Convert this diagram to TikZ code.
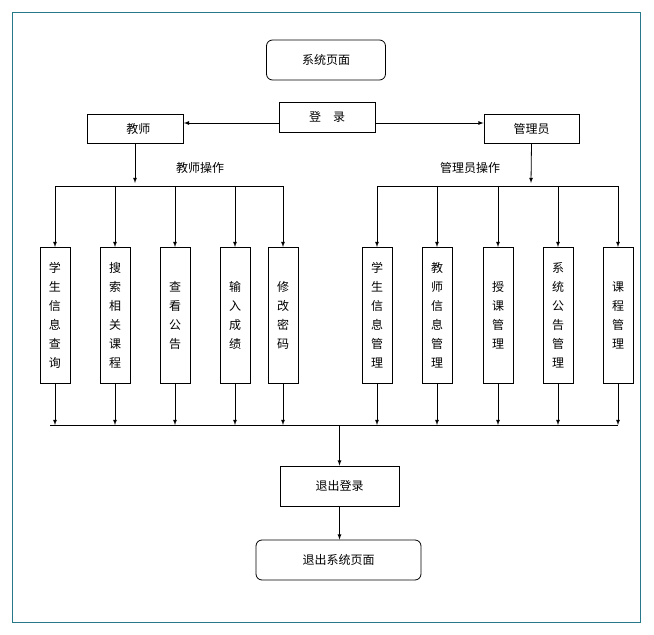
\documentclass[tikz,border=0pt]{standalone}
\usepackage{fontspec}
\setmainfont{Noto Sans CJK SC}
\begin{document}
\begin{tikzpicture}[x=1pt,y=-1pt,
 box/.style={draw,thick,fill=white,inner sep=0pt,font=\fontsize{12}{14}\selectfont},
 vbox/.style={draw,thick,fill=white,minimum width=30pt,minimum height=136pt,inner sep=0pt,anchor=north,font=\fontsize{12}{19}\selectfont,align=center,text width=14pt},
 arr/.style={-latex,thick},
 ln/.style={thick}]
\useasboundingbox (0,0) rectangle (654,635);
\draw[draw={rgb,255:red,40;green,120;blue,140}] (12,12) rectangle (640,622);
\node[box,rounded corners=6pt,minimum width=119pt,minimum height=40pt] (sys) at (326,60) {系统页面};
\node[box,minimum width=96pt,minimum height=30pt] (login) at (327,117) {登\quad 录};
\node[box,minimum width=96pt,minimum height=29pt,anchor=west] (tea) at (87,128.5) {\hspace{6pt}教师};
\node[box,minimum width=95pt,minimum height=29pt] (adm) at (531.5,128.5) {管理员};
\coordinate (ly) at (327,123);
\draw[arr] (login.west|-ly) -- (tea.east|-ly);
\draw[arr] (login.east|-ly) -- (adm.west|-ly);
\coordinate (tj) at (135,183);
\coordinate (aj) at (531,183);
\draw[arr] (tea.south-|tj) -- (tj);
\draw[arr] (adm.south) -- (aj);
\node[font=\fontsize{12}{14}\selectfont] (tl) at (200,168) {教师操作};
\node[font=\fontsize{12}{14}\selectfont] (al) at (470,168) {管理员操作};
\coordinate (tl1) at (55,186);\coordinate (tl2) at (283,186);
\draw[ln] (tl1) -- (tl2);
\coordinate (al1) at (377,186);\coordinate (al2) at (618,186);
\draw[ln] (al1) -- (al2);
\coordinate (b1) at (50,425);\coordinate (b2) at (618,425);
\draw[ln] (b1) -- (b2);
\foreach \x/\t/\n in {55/学\\生\\信\\息\\查\\询/t1,115/搜\\索\\相\\关\\课\\程/t2,175/查\\看\\公\\告/t3,235/输\\入\\成\\绩/t4,283/修\\改\\密\\码/t5}{
 \node[vbox] (\n) at (\x,247) {\t};
 \draw[arr] (\x,186) -- (\n.north);
 \draw[arr] (\n.south) -- (\x,425);
}
\foreach \x/\t/\n in {377/学\\生\\信\\息\\管\\理/a1,437/教\\师\\信\\息\\管\\理/a2,498/授\\课\\管\\理/a3,558/系\\统\\公\\告\\管\\理/a4,618/课\\程\\管\\理/a5}{
 \node[vbox] (\n) at (\x,247) {\t};
 \draw[arr] (\x,186) -- (\n.north);
 \draw[arr] (\n.south) -- (\x,425);
}
\node[box,minimum width=119pt,minimum height=40pt] (out) at (339.5,486) {退出登录};
\node[box,rounded corners=6pt,minimum width=165pt,minimum height=40pt] (outs) at (338.5,560) {退出系统页面};
\draw[arr] (out.north|-b1) -- (out.north);
\draw[arr] (out.south) -- (outs.north-|out.south);
\end{tikzpicture}
\end{document}
